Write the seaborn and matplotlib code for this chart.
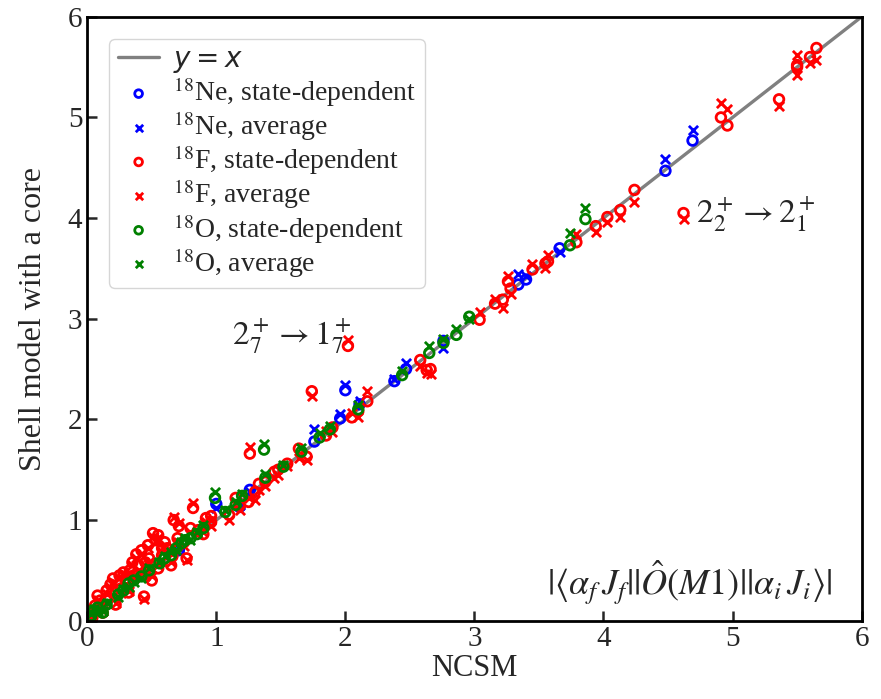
import matplotlib
matplotlib.use("Agg")
import matplotlib.pyplot as plt
import numpy as np
import pandas as pd
import seaborn as sns

# NCSM value, shell model (state-dependent), shell model (average)
ne_ncsm = [0.08, 0.71, 1.00, 1.18, 1.26, 1.76, 1.96, 2.00, 2.11, 2.38, 2.47, 2.76,
           3.34, 3.40, 3.66, 4.48, 4.69]
ne_state = [0.10, 0.70, 1.16, 1.13, 1.30, 1.78, 2.01, 2.29, 2.15, 2.38, 2.50, 2.78,
            3.34, 3.39, 3.70, 4.47, 4.77]
ne_avg = [0.12, 0.72, 1.12, 1.15, 1.28, 1.90, 2.05, 2.34, 2.18, 2.40, 2.56, 2.71,
          3.44, 3.42, 3.66, 4.59, 4.88]

f_ncsm = [5.65, 5.60, 5.50, 5.50, 5.36, 4.91, 4.96, 4.62, 4.24, 4.13, 4.03, 3.94,
          3.79, 3.57, 3.55, 3.45, 3.26, 3.28, 3.22, 3.16, 3.04, 2.63, 2.58, 2.66,
          2.02, 1.74, 2.17, 2.10, 2.05, 1.90, 1.85, 1.70, 1.64, 1.55, 1.45, 1.38,
          1.26, 1.25, 1.18, 1.30, 1.10, 0.96, 0.82, 0.67, 0.71, 0.51, 0.53, 0.77,
          0.44, 0.86, 0.62, 0.58, 0.48, 0.40, 0.36, 0.30, 0.26, 0.20, 0.15, 0.10,
          0.06, 0.02, 0.04, 0.12, 0.22, 0.32, 0.45, 0.55, 0.66, 0.75, 0.90, 0.96,
          0.38, 0.47, 0.28, 0.18, 0.35, 0.42, 0.25, 0.55, 0.60, 0.15, 0.08, 0.50,
          0.65, 0.33, 0.70, 0.80, 0.92, 0.20, 0.45, 0.58, 1.15, 1.33, 1.48]
f_state = [5.69, 5.60, 5.52, 5.50, 5.18, 5.00, 4.92, 4.05, 4.28, 4.08, 4.01, 3.92,
           3.76, 3.57, 3.55, 3.49, 3.37, 3.30, 3.19, 3.15, 2.99, 2.49, 2.59, 2.50,
           2.73, 2.28, 2.18, 2.08, 2.02, 1.92, 1.84, 1.63, 1.71, 1.56, 1.48, 1.38,
           1.66, 1.18, 1.14, 1.28, 1.05, 1.04, 1.12, 1.00, 0.94, 0.87, 0.80, 0.62,
           0.24, 0.90, 0.72, 0.65, 0.62, 0.55, 0.45, 0.40, 0.32, 0.30, 0.22, 0.20,
           0.15, 0.10, 0.03, 0.08, 0.16, 0.28, 0.46, 0.52, 0.64, 0.78, 0.86, 0.98,
           0.66, 0.75, 0.48, 0.36, 0.58, 0.70, 0.45, 0.85, 0.78, 0.30, 0.25, 0.40,
           0.55, 0.50, 0.82, 0.92, 1.02, 0.42, 0.58, 0.72, 1.22, 1.36, 1.50]
f_avg = [5.57, 5.54, 5.62, 5.42, 5.11, 5.14, 5.08, 3.99, 4.16, 4.01, 3.96, 3.86,
         3.84, 3.63, 3.50, 3.54, 3.42, 3.25, 3.11, 3.20, 3.07, 2.46, 2.53, 2.45,
         2.79, 2.23, 2.28, 2.02, 2.06, 1.87, 1.88, 1.60, 1.62, 1.54, 1.42, 1.34,
         1.73, 1.22, 1.10, 1.20, 1.00, 1.00, 1.17, 1.03, 0.97, 0.83, 0.78, 0.60,
         0.22, 0.86, 0.70, 0.68, 0.58, 0.50, 0.42, 0.36, 0.28, 0.25, 0.18, 0.14,
         0.10, 0.06, 0.05, 0.10, 0.18, 0.30, 0.44, 0.55, 0.66, 0.74, 0.88, 0.94,
         0.62, 0.72, 0.45, 0.33, 0.55, 0.66, 0.42, 0.82, 0.74, 0.27, 0.21, 0.44,
         0.58, 0.47, 0.78, 0.88, 0.98, 0.38, 0.55, 0.68, 1.18, 1.30, 1.45]

o_ncsm = [0.03, 0.08, 0.15, 0.24, 0.32, 0.42, 0.56, 0.65, 0.73, 0.80, 0.90, 0.99,
          1.07, 1.15, 1.37, 1.38, 1.52, 1.66, 1.80, 1.88, 2.10, 2.44, 2.65, 2.76,
          2.86, 2.96, 3.74, 3.86, 0.05, 0.12, 0.28, 0.36, 0.48, 0.60, 0.69, 0.76,
          0.85, 1.20]
o_state = [0.05, 0.13, 0.16, 0.26, 0.37, 0.44, 0.57, 0.65, 0.77, 0.82, 0.92, 1.22,
           1.08, 1.15, 1.70, 1.42, 1.53, 1.68, 1.82, 1.90, 2.10, 2.44, 2.66, 2.76,
           2.84, 3.02, 3.73, 3.99, 0.10, 0.08, 0.30, 0.40, 0.50, 0.62, 0.72, 0.80,
           0.86, 1.24]
o_avg = [0.07, 0.10, 0.18, 0.24, 0.33, 0.42, 0.58, 0.68, 0.78, 0.80, 0.95, 1.28,
         1.10, 1.18, 1.76, 1.46, 1.55, 1.72, 1.86, 1.93, 2.14, 2.48, 2.73, 2.80,
         2.90, 3.00, 3.85, 4.10, 0.12, 0.10, 0.32, 0.38, 0.52, 0.64, 0.70, 0.82,
         0.88, 1.26]

line_x = [0, 6]

sns.set_style("white")
plt.rcParams['font.family'] = ['Liberation Serif', 'DejaVu Serif']
plt.rcParams['mathtext.fontset'] = 'stix'

fig = plt.figure(figsize=(8.81, 6.99), dpi=100)
ax = fig.add_axes([0.099, 0.112, 0.879, 0.864])

ax.plot(line_x, line_x, color='gray', lw=2.4, label='$y=x$', zorder=1)

series = [
    ('Ne', ne_ncsm, ne_state, ne_avg, 'b'),
    ('F', f_ncsm, f_state, f_avg, 'r'),
    ('O', o_ncsm, o_state, o_avg, 'g'),
]
for name, xs, ys, ya, col in series:
    df = pd.DataFrame({'ncsm': xs, 'state': ys, 'avg': ya})
    sns.scatterplot(data=df, x='ncsm', y='state', ax=ax, marker='o', s=48,
                    facecolor='none', edgecolor=col, linewidth=2.0,
                    label=r'$^{18}$' + name + ', state-dependent', zorder=2)
    sns.scatterplot(data=df, x='ncsm', y='avg', ax=ax, marker='x', s=44,
                    color=col, linewidth=2.0,
                    label=r'$^{18}$' + name + ', average', zorder=2)

ax.set_xlim(0, 6)
ax.set_ylim(0, 6)
ax.set_xlabel('NCSM', fontsize=22, labelpad=2)
ax.set_ylabel('Shell model with a core', fontsize=23, labelpad=14)
ax.tick_params(direction='in', length=7, width=1.8, labelsize=21,
               bottom=True, left=True, top=False, right=False)
for sp in ax.spines.values():
    sp.set_linewidth(2.0)
    sp.set_color('black')

ax.text(1.12, 2.82, r'$2_7^+ \rightarrow 1_7^+$', fontsize=24, ha='left', va='center')
ax.text(4.72, 4.03, r'$2_2^+ \rightarrow 2_1^+$', fontsize=24, ha='left', va='center')
ax.text(5.77, 0.38,
        r'$|\langle\alpha_f\, J_f\mathrm{|}\mathrm{|}\hat{O}(M1)\mathrm{|}\mathrm{|}\alpha_i\, J_i\rangle|$',
        fontsize=26, ha='right', va='center')

leg = ax.legend(loc='upper left', fontsize=20, labelspacing=0.02, handlelength=1.5,
                handletextpad=0.5, borderaxespad=0.8, borderpad=0.3, frameon=True,
                markerscale=0.8)
leg.get_texts()[0].set_math_fontfamily('dejavusans')
leg.get_frame().set_edgecolor('#cccccc')

fig.savefig('out.png', dpi=100)
